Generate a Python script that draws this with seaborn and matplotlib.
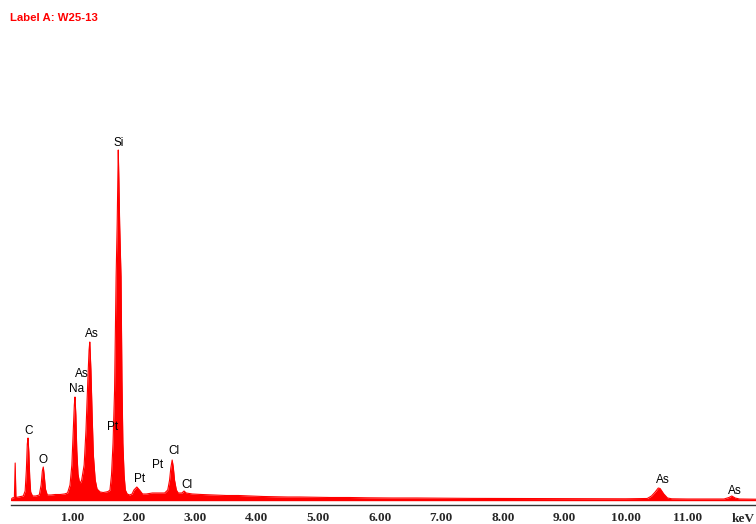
import numpy as np
import pandas as pd
import seaborn as sns
import matplotlib.pyplot as plt

# Spektrum EDS: energia [keV] i liczba zliczen
energy_kev = [
    0.00, 0.02, 0.055, 0.068, 0.08, 0.12, 0.20, 0.23, 0.25, 0.265, 0.277, 0.29, 0.305, 0.32, 0.35,
    0.40, 0.46, 0.49, 0.51, 0.525, 0.54, 0.56, 0.59, 0.65, 0.72, 0.80, 0.87, 0.92, 0.96, 0.99,
    1.01, 1.03, 1.041, 1.055, 1.07, 1.09, 1.11, 1.13, 1.15, 1.19, 1.22, 1.25, 1.27, 1.282, 1.30,
    1.32, 1.34, 1.37, 1.40, 1.45, 1.50, 1.55, 1.58, 1.61, 1.635, 1.66, 1.685, 1.71, 1.727, 1.737,
    1.745, 1.755, 1.768, 1.79, 1.805, 1.82, 1.84, 1.86, 1.89, 1.93, 1.97, 2.00, 2.047, 2.09, 2.14,
    2.20, 2.30, 2.40, 2.50, 2.55, 2.58, 2.60, 2.622, 2.64, 2.66, 2.69, 2.72, 2.78, 2.815, 2.85,
    2.95, 3.10, 3.30, 3.50, 3.70, 3.90, 4.10, 4.30, 4.50, 4.70, 4.90, 5.20, 5.50, 5.80, 6.20,
    6.60, 7.00, 7.50, 8.00, 8.50, 9.00, 9.50, 10.00, 10.30, 10.35, 10.42, 10.48, 10.53, 10.56, 10.62,
    10.68, 10.75, 11.00, 11.30, 11.60, 11.68, 11.726, 11.78, 11.85, 12.12,
]
counts = [
    0, 20, 25, 370, 25, 30, 40, 90, 300, 560, 620, 480, 220, 80, 40,
    40, 50, 150, 290, 330, 250, 110, 50, 50, 55, 55, 60, 70, 150, 350,
    650, 950, 1030, 850, 500, 260, 190, 170, 200, 350, 700, 1200, 1500, 1580, 1300,
    850, 450, 200, 110, 80, 75, 80, 85, 100, 250, 570, 1100, 2230, 2750, 3200,
    3500, 3200, 2750, 2230, 1200, 570, 250, 100, 60, 50, 60, 100, 130, 100, 60,
    60, 70, 70, 70, 100, 200, 320, 400, 330, 200, 100, 70, 70, 90, 70,
    60, 55, 50, 45, 45, 40, 35, 32, 30, 30, 28, 25, 25, 22, 20,
    20, 18, 16, 15, 14, 13, 12, 12, 15, 15, 40, 80, 120, 115, 60,
    20, 12, 10, 10, 10, 25, 40, 20, 10, 8,
]

# Etykiety pierwiastkow nad pikami
label_text = ["C", "O", "Na", "As", "As", "Si", "Pt", "Pt", "Pt", "Cl", "Cl", "As", "As"]
label_kev = [0.285, 0.52, 1.07, 1.15, 1.31, 1.75, 1.65, 2.09, 2.38, 2.65, 2.87, 10.60, 11.78]
label_counts = [690, 400, 1110, 1260, 1660, 3570, 730, 210, 345, 485, 150, 200, 95]

tick_kev = [1, 2, 3, 4, 5, 6, 7, 8, 9, 10, 11]
tick_labels = ["1.00", "2.00", "3.00", "4.00", "5.00", "6.00", "7.00", "8.00", "9.00", "10.00", "11.00"]
unit_label = "keV"

spectrum = pd.DataFrame({"keV": energy_kev, "counts": counts})

sns.set_style("white")
plt.rcParams["font.family"] = ["Liberation Sans", "DejaVu Sans"]

fig = plt.figure(figsize=(7.56, 5.24), dpi=100)
ax = fig.add_axes([11 / 756, 19 / 524, 745 / 756, 465 / 524])

red = "#ff0000"
ax.fill_between(spectrum["keV"], 0, spectrum["counts"], color=red, linewidth=0)
sns.lineplot(data=spectrum, x="keV", y="counts", ax=ax, color=red, linewidth=0.8)
ax.axhline(0, color=red, linewidth=1.0)

for txt, x, y in zip(label_text, label_kev, label_counts):
    ax.text(x, y, txt, ha="center", va="center", fontsize=8.5, color="black")

ax.set_xlim(0, 12.12)
ax.set_ylim(-50, 4600)
ax.set_xticks(tick_kev)
ax.set_xticklabels(tick_labels, fontfamily="Liberation Serif", fontweight="bold", fontsize=9.5)
ax.tick_params(axis="x", direction="inout", length=5, width=1, color="#333333", pad=2.5)
ax.set_yticks([])
ax.set_xlabel("")
ax.set_ylabel("")
for side in ["top", "right", "left"]:
    ax.spines[side].set_visible(False)
ax.spines["bottom"].set_color("#333333")
ax.spines["bottom"].set_linewidth(1.0)

# jednostka na koncu osi, w linii z etykietami podzialki
ax.annotate(unit_label, xy=(1.0, 0), xycoords="axes fraction", xytext=(-1, -5.5),
            textcoords="offset points", ha="right", va="top",
            fontfamily="Liberation Serif", fontweight="bold", fontsize=9.5)

fig.text(10 / 756, 1 - 18 / 524, "Label A: W25-13", color=red, fontsize=8.2,
         fontweight="bold", ha="left", va="center")

fig.savefig("out.png", dpi=100)
